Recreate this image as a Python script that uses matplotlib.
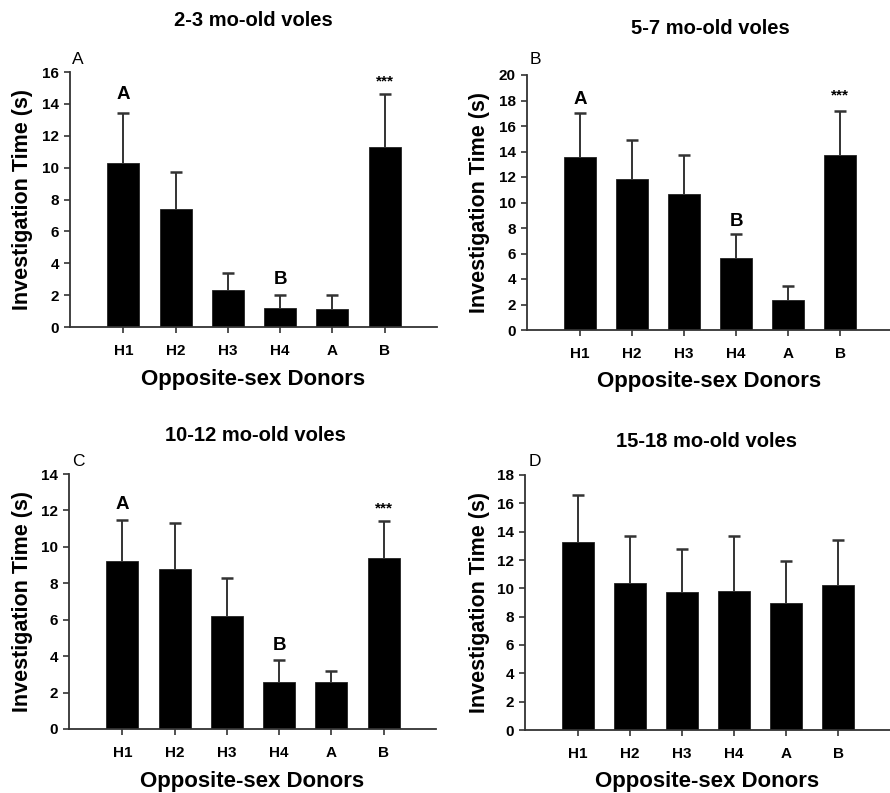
import matplotlib
matplotlib.use("Agg")
import matplotlib.pyplot as plt
import numpy as np

plt.rcParams['font.family'] = ['Liberation Sans', 'DejaVu Sans']

categories = ["H1", "H2", "H3", "H4", "A", "B"]

titles = ["2-3 mo-old voles", "5-7 mo-old voles", "10-12 mo-old voles", "15-18 mo-old voles"]
panel_letters = ["A", "B", "C", "D"]

means_a = [10.3, 7.4, 2.3, 1.2, 1.1, 11.3]
upper_a = [13.4, 9.7, 3.4, 2.0, 2.0, 14.6]
means_b = [13.6, 11.85, 10.65, 5.65, 2.35, 13.75]
upper_b = [17.0, 14.9, 13.7, 7.5, 3.45, 17.2]
means_c = [9.2, 8.8, 6.2, 2.6, 2.6, 9.4]
upper_c = [11.5, 11.3, 8.3, 3.8, 3.2, 11.4]
means_d = [13.25, 10.4, 9.75, 9.8, 8.95, 10.25]
upper_d = [16.6, 13.7, 12.8, 13.7, 11.9, 13.4]

ymax = [16, 20, 14, 18]

# significance annotations: (category index, text, y)
annot_a = [(0, "A", 14.6), (3, "B", 2.95), (5, "***", 15.4)]
annot_b = [(0, "A", 18.1), (3, "B", 8.5), (5, "***", 18.4)]
annot_c = [(0, "A", 12.3), (3, "B", 4.6), (5, "***", 12.1)]
annot_d = []

means = [means_a, means_b, means_c, means_d]
uppers = [upper_a, upper_b, upper_c, upper_d]
annots = [annot_a, annot_b, annot_c, annot_d]

W, H = 890, 793
fig = plt.figure(figsize=(W / 100, H / 100), dpi=100)

# axes boxes in pixels: left, top, right, bottom
boxes = [(70, 72, 437, 327), (527, 75, 892, 330), (69, 474, 436, 729), (525, 475, 890, 730)]
title_pos = [(253, 20), (710, 28), (255, 435), (706, 442)]
letter_pos = [(78, 60), (535, 60), (78, 462), (535, 462)]
ylabel_x = [22.5, 480, 22.5, 480]

for i in range(4):
    l, t, r, b = boxes[i]
    ax = fig.add_axes([l / W, 1 - b / H, (r - l) / W, (b - t) / H])
    x = np.arange(len(categories))
    m = np.array(means[i])
    u = np.array(uppers[i])
    ax.bar(x, m, width=0.61, color="black", edgecolor="#222222", linewidth=0.6, zorder=2)
    ax.vlines(x, m, u, colors="#333333", linewidth=1.4, zorder=1)
    ax.plot(x, u, linestyle="none", marker="_", markersize=9, markeredgewidth=1.8,
            color="#333333", zorder=1)
    ax.set_xlim(-1.02, 6.0)
    ax.set_ylim(0, ymax[i])
    ax.set_yticks(np.arange(0, ymax[i] + 1, 2))
    ax.set_xticks(x)
    ax.set_xticklabels(categories)
    for s in ["top", "right"]:
        ax.spines[s].set_visible(False)
    for s in ["left", "bottom"]:
        ax.spines[s].set_color("#333333")
        ax.spines[s].set_linewidth(1.3)
    ax.tick_params(axis="both", direction="out", length=4, width=1.2, color="#333333",
                   labelsize=11)
    ax.tick_params(axis="x", pad=8)
    ax.tick_params(axis="y", pad=4)
    for lab in ax.get_xticklabels() + ax.get_yticklabels():
        lab.set_fontweight("bold")
    ax.set_ylabel("Investigation Time (s)", fontsize=15.5, fontweight="bold", va="center")
    ax.yaxis.set_label_coords((ylabel_x[i] - l) / (r - l), 0.5)
    ax.set_xlabel("Opposite-sex Donors", fontsize=16, fontweight="bold", va="center")
    ax.xaxis.set_label_coords(0.5, -(52) / (b - t))
    for (ci, txt, yy) in annots[i]:
        if txt == "***":
            ax.text(ci, yy, txt, ha="center", va="center", fontsize=11, fontweight="bold")
        else:
            ax.text(ci, yy, txt, ha="center", va="center", fontsize=13.5, fontweight="bold")
    fig.text(title_pos[i][0] / W, 1 - title_pos[i][1] / H, titles[i], ha="center", va="center",
             fontsize=14.5, fontweight="bold")
    fig.text(letter_pos[i][0] / W, 1 - letter_pos[i][1] / H, panel_letters[i], ha="center",
             va="center", fontsize=12.5)

fig.savefig("out.png", dpi=100)
